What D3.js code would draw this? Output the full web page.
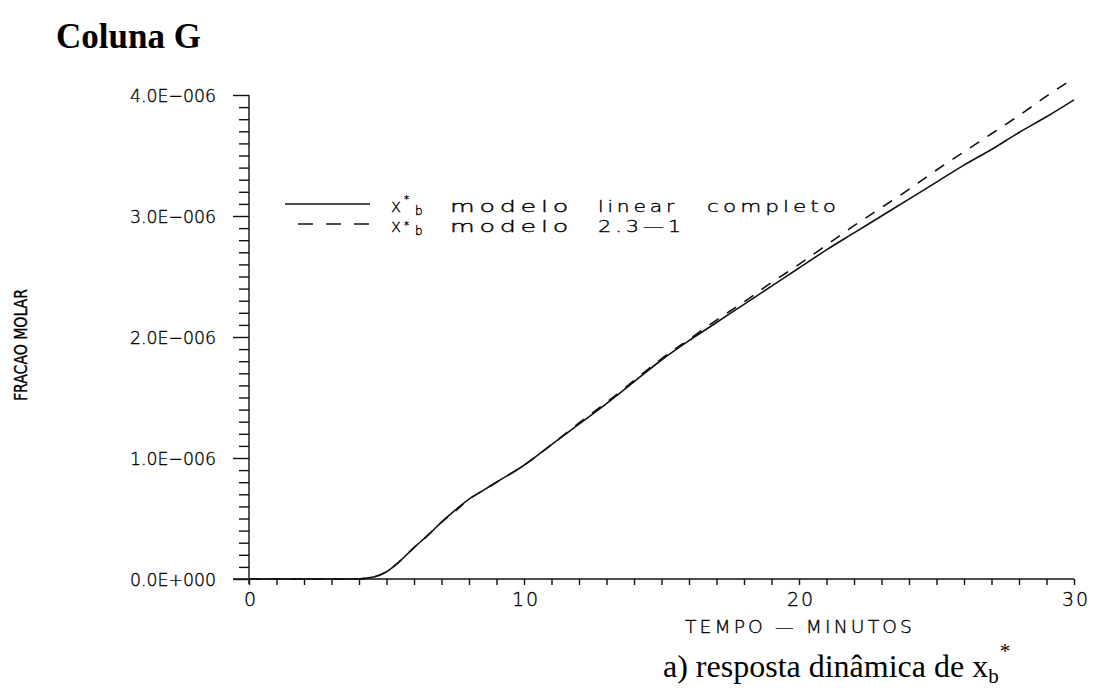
<!DOCTYPE html>
<html>
<head>
<meta charset="utf-8">
<script src="https://cdn.jsdelivr.net/npm/d3@7"></script>
<style>
  html, body { margin: 0; padding: 0; background: #fff; }
  svg { display: block; }
  .plot-text { font-family: "DejaVu Sans", sans-serif; font-weight: 200; fill: #000; stroke: #000; stroke-width: 0.35px; }
  .serif { font-family: "Liberation Serif", "Times New Roman", serif; fill: #000; }
</style>
</head>
<body>
<svg id="chart" width="1097" height="694"></svg>
<script>
// Time in minutes
const tempo = [0, 1, 2, 3, 4, 4.2, 4.6, 5.0, 5.5, 6.0, 6.5, 7.0, 7.5, 8.0, 8.5, 9.0,
  10, 11, 12, 13, 14, 15, 16, 17, 18, 19, 20, 21, 22, 23, 24, 25, 26, 27, 28, 29, 30];

// Molar fraction x_b* (units of 1e-6), full linear model
const linearCompleto = [0, 0, 0, 0, 0, 0.005, 0.02, 0.06, 0.15, 0.26, 0.36, 0.47, 0.57, 0.66, 0.73, 0.80,
  0.94, 1.11, 1.28, 1.45, 1.63, 1.81, 1.97, 2.12, 2.27, 2.42, 2.57, 2.72, 2.86, 3.00, 3.14, 3.28, 3.42, 3.55, 3.69, 3.82, 3.96];

// Molar fraction x_b* (units of 1e-6), reduced model 2.3-1
const modelo231 = [0, 0, 0, 0, 0, 0.005, 0.02, 0.06, 0.15, 0.26, 0.36, 0.47, 0.56, 0.66, 0.73, 0.80,
  0.94, 1.11, 1.29, 1.46, 1.64, 1.82, 1.98, 2.14, 2.29, 2.45, 2.60, 2.76, 2.92, 3.07, 3.22, 3.38, 3.53, 3.68, 3.83, 3.99, 4.14];

const xTicks = [0, 10, 20, 30];
const yTicks = [0, 1, 2, 3, 4];
const yTickLabels = ["0.0E+000", "1.0E\u2212006", "2.0E\u2212006", "3.0E\u2212006", "4.0E\u2212006"];

const svg = d3.select("#chart");

const x = d3.scaleLinear().domain([0, 30]).range([249, 1074]);
const y = d3.scaleLinear().domain([0, 4]).range([579, 95]);

// ---- Axes ----
const gx = svg.append("g").attr("transform", `translate(0,${y(0)})`);
gx.call(d3.axisBottom(x).tickValues(d3.range(0, 31, 1)).tickSize(6).tickFormat(""));
gx.select(".domain").attr("d", `M${x(0) - 16},0H${x(30)}`);

const gy = svg.append("g").attr("transform", `translate(${x(0)},0)`);
gy.call(d3.axisLeft(y).tickValues(d3.range(0, 40.5, 1).map(v => v / 10)).tickSize(10).tickFormat(""));
gy.select(".domain").attr("d", `M0,${y(4)}V${y(0) + 5}`);
gy.selectAll(".tick line")
  .attr("x2", d => Math.abs(d - Math.round(d)) < 1e-9 ? -16 : -10);

svg.selectAll(".domain, .tick line").attr("stroke", "#111").attr("stroke-width", 1.4);

// Tick labels (wide plotter-style lettering)
svg.append("g").selectAll("text")
  .data(xTicks).join("text")
  .attr("class", "plot-text")
  .attr("x", d => x(d) + 2)
  .attr("y", 606)
  .attr("text-anchor", "middle")
  .attr("font-size", 19)
  .attr("letter-spacing", 2)
  .text(d => d);

svg.append("g").selectAll("text")
  .data(yTicks).join("text")
  .attr("class", "plot-text")
  .attr("x", 130)
  .attr("y", d => y(d) + 7)
  .attr("font-size", 18)
  .attr("textLength", 86)
  .attr("lengthAdjust", "spacingAndGlyphs")
  .text((d, i) => yTickLabels[i]);

// Axis titles
svg.append("text")
  .attr("class", "plot-text")
  .attr("x", 685).attr("y", 633)
  .attr("font-size", 18)
  .attr("textLength", 230)
  .attr("lengthAdjust", "spacingAndGlyphs")
  .attr("letter-spacing", 3)
  .text("TEMPO \u2014 MINUTOS");

svg.append("text")
  .attr("class", "plot-text")
  .attr("transform", "translate(27,401) rotate(-90)")
  .attr("font-size", 17)
  .attr("textLength", 112)
  .attr("lengthAdjust", "spacingAndGlyphs")
  .style("font-family", "'DejaVu Sans Condensed', 'DejaVu Sans', sans-serif")
  .text("FRACAO MOLAR");

// ---- Curves ----
const line = d3.line()
  .x(d => x(d[0]))
  .y(d => y(d[1]))
  .curve(d3.curveMonotoneX);

svg.append("path")
  .datum(tempo.map((t, i) => [t, linearCompleto[i]]))
  .attr("d", line)
  .attr("fill", "none")
  .attr("stroke", "#111")
  .attr("stroke-width", 1.6);

svg.append("path")
  .datum(tempo.map((t, i) => [t, modelo231[i]]))
  .attr("d", line)
  .attr("fill", "none")
  .attr("stroke", "#111")
  .attr("stroke-width", 1.6)
  .attr("stroke-dasharray", "11,10");

// ---- Legend ----
const legend = svg.append("g");
const legendRows = [
  { y: 204, dash: null, x1: 285, words: [["modelo", 450, 123], ["linear", 598, 80], ["completo", 707, 133]], starDy: -9 },
  { y: 224, dash: "15,13", x1: 298, words: [["modelo", 450, 123], ["2.3\u20141", 598, 87]], starDy: -3 }
];
legendRows.forEach(r => {
  legend.append("line")
    .attr("x1", r.x1).attr("x2", 370)
    .attr("y1", r.y).attr("y2", r.y)
    .attr("stroke", "#111").attr("stroke-width", 1.5)
    .attr("stroke-dasharray", r.dash);
  const base = r.y + 8;
  const sym = legend.append("text")
    .attr("class", "plot-text")
    .attr("y", base)
    .attr("font-size", 17);
  sym.append("tspan").attr("x", 391).text("x");
  sym.append("tspan").attr("x", 404).attr("dy", r.starDy).attr("font-size", 10).text("*");
  sym.append("tspan").attr("x", 415).attr("dy", 3 - r.starDy).attr("font-size", 12).text("b");
  r.words.forEach(([w, wx, wl]) => {
    legend.append("text")
      .attr("class", "plot-text")
      .attr("x", wx).attr("y", base)
      .attr("font-size", 16)
      .attr("letter-spacing", 3)
      .attr("textLength", wl)
      .attr("lengthAdjust", "spacingAndGlyphs")
      .text(w);
  });
});

// ---- Titles ----
svg.append("text")
  .attr("class", "serif")
  .attr("x", 56).attr("y", 48)
  .attr("font-size", 35)
  .attr("font-weight", 600)
  .text("Coluna G");

const cap = svg.append("text")
  .attr("class", "serif")
  .attr("x", 663).attr("y", 677)
  .attr("font-size", 32);
cap.append("tspan").text("a) resposta din\u00e2mica de x");
cap.append("tspan").attr("font-size", 21).attr("dy", 6).text("b");
cap.append("tspan").attr("font-size", 21).attr("dy", -25).attr("dx", 1).text("*");
</script>
</body>
</html>
